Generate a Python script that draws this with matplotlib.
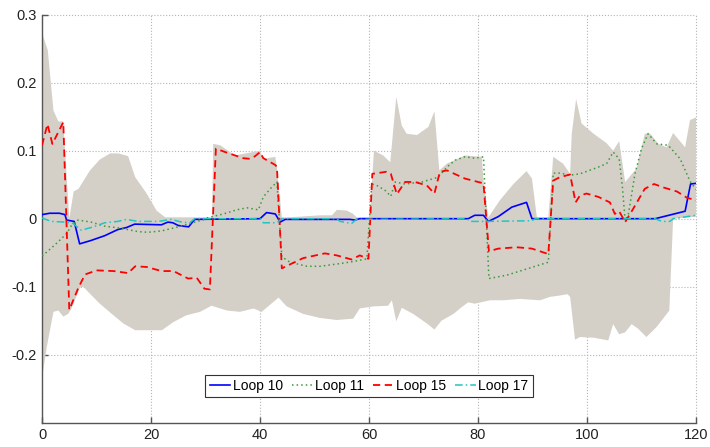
import matplotlib
matplotlib.use("Agg")
import matplotlib.pyplot as plt
import numpy as np

plt.rcParams.update(
    {
        "font.family": ["Liberation Sans", "DejaVu Sans"],
        "font.size": 10,
        "axes.unicode_minus": False,
    }
)

# Loop 10
x10 = [0, 1.4, 3.2, 4.2, 4.5, 5.9, 6.9, 9.0, 11.5, 13.9, 15.5, 17.0, 21.9, 23.1, 24.0, 25.0,
       26.9, 28.0, 40.0, 41.2, 42.8, 43.7, 44.6, 56.5, 57.4, 58.3, 78.2, 79.4, 81.0, 81.9,
       83.7, 86.2, 88.9, 89.9, 112.5, 118.0, 119.0, 120]
y10 = [0.006, 0.008, 0.008, 0.006, -0.002, -0.004, -0.037, -0.032, -0.025, -0.016, -0.013,
       -0.008, -0.009, -0.005, -0.006, -0.010, -0.012, -0.001, 0.0, 0.009, 0.007, -0.005,
       -0.001, -0.001, -0.002, 0.0, 0.0, 0.005, 0.005, -0.004, 0.003, 0.017, 0.024, 0.0,
       0.0, 0.011, 0.051, 0.052]

# Loop 11
x11 = [0, 2.3, 4.5, 5.4, 6.6, 9.0, 11.5, 14.5, 17.6, 19.4, 21.9, 25.0, 28.0, 29.8, 30.2,
       33.3, 35.7, 37.6, 39.7, 40.6, 42.1, 43.1, 44.0, 45.5, 48.6, 51.0, 54.7, 57.1, 59.6,
       60.5, 61.4, 62.9, 64.0, 64.8, 66.6, 69.7, 72.7, 74.3, 75.8, 77.6, 79.4, 81.0, 82.0,
       85.3, 88.9, 91.7, 92.9, 93.8, 95.0, 96.9, 98.7, 101.8, 103.6, 104.8, 105.9, 106.5,
       107.0, 107.6, 108.8, 110.0, 111.2, 112.8, 114.9, 117.1, 118.9, 120]
y11 = [-0.055, -0.039, -0.022, -0.010, -0.002, -0.005, -0.011, -0.014, -0.019, -0.020,
       -0.018, -0.012, -0.005, -0.001, 0.001, 0.007, 0.013, 0.016, 0.013, 0.032, 0.046,
       0.054, -0.056, -0.064, -0.070, -0.070, -0.066, -0.063, -0.059, 0.051, 0.049, 0.042,
       0.033, 0.054, 0.051, 0.054, 0.061, 0.076, 0.086, 0.091, 0.089, 0.091, -0.088,
       -0.083, -0.074, -0.067, -0.064, 0.067, 0.067, 0.064, 0.066, 0.075, 0.081, 0.098,
       0.088, 0.046, -0.003, 0.007, 0.066, 0.103, 0.125, 0.110, 0.108, 0.088, 0.055, 0.043]

# Loop 15
x15 = [0, 1.0, 1.9, 3.9, 5.0, 6.7, 7.9, 10.0, 13.1, 15.8, 17.1, 19.2, 21.9, 24.1, 26.8,
       28.4, 29.8, 30.8, 31.9, 33.6, 36.9, 38.2, 39.1, 40.0, 40.6, 42.8, 43.1, 44.0, 47.9,
       51.9, 54.1, 56.8, 58.3, 59.9, 60.6, 63.2, 64.0, 65.1, 66.6, 68.4, 70.6, 72.0, 73.0,
       74.3, 77.6, 81.0, 82.0, 83.7, 87.1, 89.9, 92.9, 93.8, 95.0, 96.9, 97.9, 98.7, 99.9,
       102.1, 104.2, 105.1, 105.9, 107.0, 108.5, 110.6, 112.3, 114.0, 116.5, 118.3, 120]
y15 = [0.108, 0.139, 0.110, 0.142, -0.134, -0.101, -0.082, -0.076, -0.077, -0.080, -0.070,
       -0.071, -0.077, -0.077, -0.088, -0.087, -0.103, -0.104, 0.103, 0.098, 0.089, 0.088,
       0.092, 0.098, 0.089, 0.079, 0.076, -0.073, -0.058, -0.051, -0.054, -0.060, -0.054,
       -0.059, 0.066, 0.069, 0.066, 0.036, 0.054, 0.054, 0.049, 0.037, 0.069, 0.071, 0.059,
       0.052, -0.048, -0.044, -0.042, -0.044, -0.052, 0.056, 0.061, 0.065, 0.024, 0.034,
       0.037, 0.032, 0.024, 0.007, 0.011, -0.005, 0.015, 0.044, 0.051, 0.046, 0.040, 0.031,
       0.027]

# Loop 17
x17 = [0, 1.7, 4.2, 5.7, 7.2, 9.4, 11.5, 13.9, 15.5, 17.6, 21.3, 23.7, 25.6, 27.1, 28.0,
       40.0, 40.6, 43.1, 44.0, 54.0, 54.7, 56.8, 57.7, 78.0, 78.5, 81.3, 89.9, 90.5, 112.5,
       113.7, 115.2, 115.8, 118.3, 120]
y17 = [0.001, -0.004, -0.005, -0.007, -0.017, -0.012, -0.006, -0.004, -0.001, -0.004,
       -0.004, -0.001, -0.005, -0.006, 0.0, 0.0, -0.006, -0.006, 0.0, 0.0, -0.004, -0.007,
       -0.001, 0.0, -0.004, -0.004, -0.003, 0.0, 0.0, -0.004, -0.004, 0.0, 0.003, 0.005]

# envelope of all loops
upper_x = [0, 1.05, 2.1, 3.0, 3.9, 5.0, 5.8, 6.7, 8.8, 10.6, 12.5, 14.0, 15.8, 17.1, 19.2,
           21.0, 22.6, 28.1, 31.2, 31.4, 32.7, 35.4, 40.0, 40.6, 42.8, 43.1, 44.0, 44.9,
           47.3, 51.0, 53.2, 54.1, 55.9, 57.1, 57.7, 60.2, 60.5, 60.9, 62.6, 63.9, 65.0,
           66.0, 66.9, 68.8, 70.9, 72.0, 72.9, 74.3, 77.6, 80.7, 81.0, 81.9, 84.0, 86.5,
           88.9, 89.9, 90.8, 92.9, 93.8, 95.6, 96.9, 97.2, 98.0, 99.0, 101.2, 103.6, 104.8,
           105.9, 107.0, 109.1, 110.6, 111.6, 113.1, 114.6, 115.8, 118.0, 118.9, 120]
upper_y = [0.273, 0.248, 0.159, 0.143, 0.143, 0.0, 0.040, 0.044, 0.071, 0.087, 0.096, 0.096,
           0.092, 0.061, 0.037, 0.012, 0.002, 0.002, 0.002, 0.110, 0.108, 0.093, 0.100,
           0.088, 0.091, 0.076, 0.002, 0.002, 0.003, 0.005, 0.005, 0.013, 0.012, 0.007,
           0.002, 0.002, 0.049, 0.100, 0.093, 0.083, 0.179, 0.137, 0.125, 0.123, 0.135,
           0.158, 0.071, 0.081, 0.093, 0.091, 0.056, 0.002, 0.027, 0.051, 0.070, 0.059,
           0.002, 0.002, 0.091, 0.081, 0.066, 0.125, 0.176, 0.140, 0.125, 0.111, 0.100,
           0.114, 0.054, 0.074, 0.125, 0.125, 0.110, 0.105, 0.126, 0.105, 0.145, 0.149]
lower_x = [0, 0.86, 2.1, 3.0, 3.9, 4.8, 5.4, 7.0, 7.6, 8.5, 10.6, 13.1, 14.9, 17.1, 19.5,
           22.0, 24.1, 26.5, 29.0, 31.1, 33.9, 36.3, 38.8, 40.3, 43.4, 44.9, 47.9, 51.0,
           54.1, 57.1, 58.3, 60.8, 63.5, 64.2, 65.0, 66.0, 68.1, 70.6, 72.0, 73.3, 75.5,
           77.0, 78.2, 79.4, 82.2, 84.6, 87.7, 89.5, 91.4, 93.2, 95.0, 96.4, 96.9, 97.8,
           98.7, 101.2, 103.9, 104.8, 105.9, 107.0, 108.2, 109.4, 110.9, 112.8, 115.1,
           115.8, 120]
lower_y = [-0.235, -0.189, -0.137, -0.135, -0.144, -0.140, -0.132, -0.101, -0.100, -0.108,
           -0.125, -0.142, -0.154, -0.164, -0.164, -0.164, -0.152, -0.142, -0.137, -0.128,
           -0.135, -0.137, -0.132, -0.137, -0.116, -0.129, -0.140, -0.146, -0.149, -0.147,
           -0.132, -0.129, -0.128, -0.120, -0.151, -0.131, -0.140, -0.154, -0.163, -0.150,
           -0.140, -0.130, -0.123, -0.125, -0.120, -0.120, -0.118, -0.119, -0.120, -0.115,
           -0.113, -0.111, -0.115, -0.178, -0.174, -0.175, -0.179, -0.155, -0.170, -0.167,
           -0.155, -0.162, -0.174, -0.159, -0.135, 0.0, 0.003]

x_ticks = [0, 20, 40, 60, 80, 100, 120]
y_ticks = [-0.2, -0.1, 0, 0.1, 0.2, 0.3]
y_tick_labels = ["-0.2", "-0.1", "0", "0.1", "0.2", "0.3"]

fig = plt.figure(figsize=(7.1, 4.47), dpi=100)
ax = fig.add_axes([0.0592, 0.0544, 0.9211, 0.9127])

ax.fill(np.r_[upper_x, lower_x[::-1]], np.r_[upper_y, lower_y[::-1]],
        color="#d4d0c8", lw=0, zorder=1)

ax.plot(x10, y10, color="#0000ff", lw=1.2, label="Loop 10", zorder=3)
ax.plot(x11, y11, color="#3a9a3a", lw=1.1, ls=(0, (1, 2)), label="Loop 11", zorder=3)
ax.plot(x15, y15, color="#ff0000", lw=1.3, ls=(0, (4, 2.5)), label="Loop 15", zorder=3)
ax.plot(x17, y17, color="#22c4c4", lw=1.1, ls=(0, (5, 2, 1, 2)), label="Loop 17", zorder=3)

ax.set_xlim(0, 120)
ax.set_ylim(-0.3, 0.3)
ax.set_xticks(x_ticks)
ax.set_yticks(y_ticks)
ax.set_yticklabels(y_tick_labels)

ax.set_axisbelow(True)
ax.grid(True, color="#b4b4b4", ls=":", lw=0.8)
for gl in ax.get_xgridlines() + ax.get_ygridlines():
    gl.set_clip_on(False)

for side in ("top", "right"):
    ax.spines[side].set_visible(False)
for side in ("left", "bottom"):
    ax.spines[side].set_color("#555555")
    ax.spines[side].set_linewidth(1.0)
ax.tick_params(direction="in", length=4, width=1.0, color="#555555",
               labelsize=10.5, labelcolor="#222222", pad=4)

leg = ax.legend(loc="lower center", bbox_to_anchor=(0.5, 0.062), ncol=4,
                frameon=True, fancybox=False, framealpha=1, edgecolor="#333333",
                handlelength=1.5, handletextpad=0.2, columnspacing=0.6,
                borderpad=0.3, borderaxespad=0, fontsize=10)
leg.get_frame().set_linewidth(0.8)

fig.savefig("out.png", dpi=100)
